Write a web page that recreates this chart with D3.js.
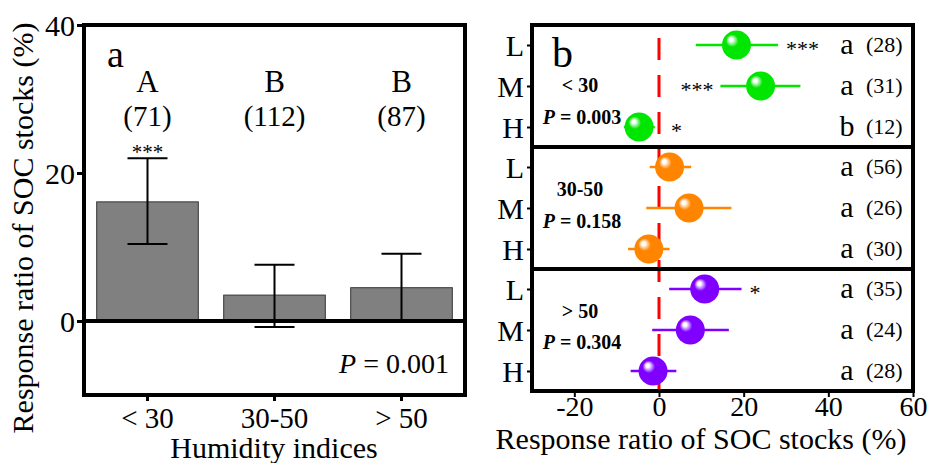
<!DOCTYPE html>
<html>
<head>
<meta charset="utf-8">
<script src="https://cdn.jsdelivr.net/npm/d3@7"></script>
<style>
  body { margin: 0; background: #fff; }
  svg text { font-family: "Times New Roman", "Liberation Serif", "DejaVu Serif", serif; }
</style>
</head>
<body>
<div id="chart"></div>
<script>
// Panel a data: humidity classes
const humidity = ["< 30", "30-50", "> 50"];
const barMean = [16.1, 3.5, 4.5];
const barLow = [10.4, -0.8, 0];
const barHigh = [22.0, 7.6, 9.1];
const barLetter = ["A", "B", "B"];
const barN = ["(71)", "(112)", "(87)"];
const barStars = ["***", "", ""];
const yTicksA = [0, 20, 40];

// Panel b data: L / M / H within each humidity class
const levels = ["L", "M", "H"];
const groupName = ["< 30", "30-50", "> 50"];
const groupP = ["0.003", "0.158", "0.304"];
const groupColor = ["#00e600", "#ff8400", "#8000ff"];
const ptMean = [[18.3, 24.0, -4.7], [2.5, 7.1, -2.4], [10.8, 7.4, -1.4]];
const ptLow = [[8.7, 14.5, -8.3], [-2.2, -3.0, -7.3], [2.4, -1.6, -6.7]];
const ptHigh = [[28.1, 33.4, -1.0], [7.6, 17.1, 2.5], [19.5, 16.5, 4.1]];
const ptLetter = [["a", "a", "b"], ["a", "a", "a"], ["a", "a", "a"]];
const ptN = [["(28)", "(31)", "(12)"], ["(56)", "(26)", "(30)"], ["(35)", "(24)", "(28)"]];
const ptStars = [["***", "***", "*"], ["", "", ""], ["*", "", ""]];
const xTicksB = [-20, 0, 20, 40, 60];

const width = 928, height = 463;
const serif = '"Times New Roman", "Liberation Serif", "DejaVu Serif", serif';
const svg = d3.select("#chart").append("svg")
  .attr("width", width).attr("height", height)
  .attr("font-family", serif);

// ---------- panel a ----------
const ax = d3.scaleBand().domain(humidity).range([84, 465]).paddingInner(0.2).paddingOuter(0.1);
const ay = d3.scaleLinear().domain([-10, 40]).range([395, 25]);
const ga = svg.append("g");

ga.selectAll("rect.bar").data(humidity).join("rect")
  .attr("class", "bar")
  .attr("x", d => ax(d))
  .attr("width", ax.bandwidth())
  .attr("y", (d, i) => ay(Math.max(0, barMean[i])))
  .attr("height", (d, i) => Math.abs(ay(barMean[i]) - ay(0)))
  .attr("fill", "#808080").attr("stroke", "#333").attr("stroke-width", 1);

const eb = ga.selectAll("g.err").data(humidity).join("g")
  .attr("transform", d => `translate(${ax(d) + ax.bandwidth() / 2},0)`);
eb.append("line").attr("y1", (d, i) => ay(barLow[i])).attr("y2", (d, i) => ay(barHigh[i]))
  .attr("stroke", "#000").attr("stroke-width", 2);
eb.append("line").attr("x1", -20).attr("x2", 20).attr("y1", (d, i) => ay(barHigh[i])).attr("y2", (d, i) => ay(barHigh[i]))
  .attr("stroke", "#000").attr("stroke-width", 2);
eb.append("line").attr("x1", -20).attr("x2", 20).attr("y1", (d, i) => ay(barLow[i])).attr("y2", (d, i) => ay(barLow[i]))
  .attr("stroke", "#000").attr("stroke-width", 2);
eb.append("text").attr("y", 92).attr("text-anchor", "middle").attr("font-size", 31).text((d, i) => barLetter[i]);
eb.append("text").attr("y", 126).attr("text-anchor", "middle").attr("font-size", 29).text((d, i) => barN[i]);
eb.append("text").attr("y", ay(barHigh[0]) + 1).attr("text-anchor", "middle").attr("font-size", 21).text((d, i) => barStars[i]);

// zero line
ga.append("line").attr("x1", 84).attr("x2", 465).attr("y1", ay(0)).attr("y2", ay(0))
  .attr("stroke", "#000").attr("stroke-width", 4);

// frame
ga.append("rect").attr("x", 84).attr("y", 25).attr("width", 381).attr("height", 370)
  .attr("fill", "none").attr("stroke", "#000").attr("stroke-width", 4);

// axes
const yAxisA = ga.append("g").attr("transform", "translate(82,0)")
  .call(d3.axisLeft(ay).tickValues(yTicksA).tickSize(5).tickSizeOuter(0).tickFormat(d => String(d)));
yAxisA.attr("font-family", serif);
yAxisA.select(".domain").remove();
yAxisA.selectAll("line").attr("stroke-width", 3);
yAxisA.selectAll("text").attr("font-size", 30).attr("fill", "#000").attr("dx", 1).attr("dy", "0.34em");

const xAxisA = ga.append("g").attr("transform", "translate(0,397)")
  .call(d3.axisBottom(ax).tickSize(4).tickSizeOuter(0));
xAxisA.attr("font-family", serif);
xAxisA.select(".domain").remove();
xAxisA.selectAll("line").attr("stroke-width", 3);
xAxisA.selectAll("text").attr("font-size", 29).attr("fill", "#000").attr("dy", "0.82em");

ga.append("text").attr("x", 107).attr("y", 67).attr("font-size", 38).text("a");
ga.append("text").attr("x", 449).attr("y", 373).attr("text-anchor", "end").attr("font-size", 28)
  .html('<tspan font-style="italic">P</tspan> = 0.001');

ga.append("text").attr("x", 274).attr("y", 458).attr("text-anchor", "middle").attr("font-size", 30).text("Humidity indices");
ga.append("text").attr("transform", "translate(33,228) rotate(-90)").attr("text-anchor", "middle").attr("font-size", 30)
  .text("Response ratio of SOC stocks (%)");

// ---------- panel b ----------
const bx = d3.scaleLinear().domain([-30, 60]).range([532, 913]);
const by = d3.scaleBand().domain(groupName).range([25, 391]);
const gb = svg.append("g");

const defs = svg.append("defs");
groupColor.forEach((c, i) => {
  const g = defs.append("radialGradient").attr("id", "ball" + i)
    .attr("cx", "45%").attr("cy", "45%").attr("r", "60%").attr("fx", "30%").attr("fy", "30%");
  g.append("stop").attr("offset", "0%").attr("stop-color", "#fff");
  g.append("stop").attr("offset", "10%").attr("stop-color", "#fff");
  g.append("stop").attr("offset", "22%").attr("stop-color", d3.interpolateRgb(c, "#fff")(0.55));
  g.append("stop").attr("offset", "36%").attr("stop-color", c);
  g.append("stop").attr("offset", "100%").attr("stop-color", c);
});

// red dashed zero line (behind)
gb.append("line").attr("x1", bx(0)).attr("x2", bx(0)).attr("y1", 38).attr("y2", 391)
  .attr("stroke", "#ff0000").attr("stroke-width", 3).attr("stroke-dasharray", "22,15");

groupName.forEach((gname, gi) => {
  const top = by(gname);
  const ry = d3.scalePoint().domain(levels).range([top + 20, top + 102]);
  const grp = gb.append("g");

  const row = grp.selectAll("g.row").data(levels).join("g")
    .attr("transform", d => `translate(0,${ry(d)})`);
  row.append("line")
    .attr("x1", (d, i) => bx(ptLow[gi][i])).attr("x2", (d, i) => bx(ptHigh[gi][i]))
    .attr("stroke", groupColor[gi]).attr("stroke-width", 2.5);
  row.append("circle")
    .attr("cx", (d, i) => bx(ptMean[gi][i])).attr("r", 14.5)
    .attr("fill", `url(#ball${gi})`);
  row.append("text").attr("x", 847).attr("dy", "0.3em").attr("text-anchor", "middle").attr("font-size", 30)
    .text((d, i) => ptLetter[gi][i]);
  row.append("text").attr("x", 866).attr("dy", "0.33em").attr("font-size", 22)
    .text((d, i) => ptN[gi][i]);
  // stars: right of the error bar, left of it for the M row in group 1
  row.append("text")
    .attr("font-size", 22).attr("dy", "0.48em")
    .attr("x", (d, i) => {
      if (gi === 0 && i === 1) return bx(ptLow[gi][i]) - 7;
      return bx(Math.max(ptHigh[gi][i], 0)) + (ptHigh[gi][i] < 0 ? 12 : 8);
    })
    .attr("text-anchor", (d, i) => (gi === 0 && i === 1) ? "end" : "start")
    .text((d, i) => ptStars[gi][i]);

  // group label + P value
  const labY = [[92, 124], [196, 228], [318, 349]][gi];
  grp.append("text").attr("x", 580).attr("y", labY[0]).attr("text-anchor", "middle")
    .attr("font-size", 20).attr("font-weight", "bold").text(gname);
  grp.append("text").attr("x", 582).attr("y", labY[1]).attr("text-anchor", "middle")
    .attr("font-size", 20).attr("font-weight", "bold")
    .html('<tspan font-style="italic">P</tspan> = ' + groupP[gi]);

  // L/M/H axis
  const la = grp.append("g").attr("transform", "translate(531,0)")
    .call(d3.axisLeft(ry).tickSize(4).tickSizeOuter(0));
  la.attr("font-family", serif);
  la.select(".domain").remove();
  la.selectAll("line").attr("stroke-width", 2);
  la.selectAll("text").attr("font-size", 30).attr("fill", "#000").attr("dx", 0).attr("dy", "0.36em");
});

// frame and separators
gb.append("rect").attr("x", 532).attr("y", 25).attr("width", 381).attr("height", 366)
  .attr("fill", "none").attr("stroke", "#000").attr("stroke-width", 4);
groupName.slice(1).forEach(g => {
  gb.append("line").attr("x1", 532).attr("x2", 913).attr("y1", by(g)).attr("y2", by(g))
    .attr("stroke", "#000").attr("stroke-width", 4);
});

const xAxisB = gb.append("g").attr("transform", "translate(0,392)")
  .call(d3.axisBottom(bx).tickValues(xTicksB).tickSize(5).tickSizeOuter(0).tickFormat(d => String(d)));
xAxisB.attr("font-family", serif);
xAxisB.select(".domain").remove();
xAxisB.selectAll("line").attr("stroke-width", 2);
xAxisB.selectAll("text").attr("font-size", 28).attr("fill", "#000").attr("dy", "0.58em");

gb.append("text").attr("x", 701).attr("y", 449).attr("text-anchor", "middle").attr("font-size", 30)
  .text("Response ratio of SOC stocks (%)");
gb.append("text").attr("x", 552).attr("y", 67).attr("font-size", 42).text("b");
</script>
</body>
</html>
